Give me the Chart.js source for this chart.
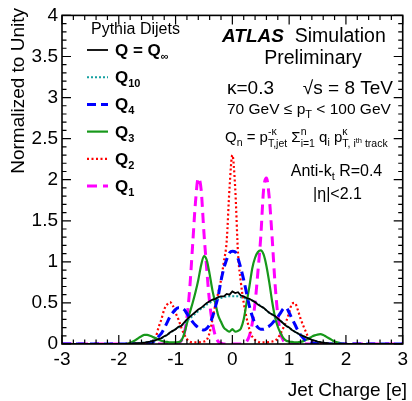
<!DOCTYPE html>
<html>
<head>
<meta charset="utf-8">
<script src="https://cdn.jsdelivr.net/npm/chart.js@4/dist/chart.umd.min.js"></script>
<style>
  html, body { margin: 0; padding: 0; background: #fff; }
  #c { display: block; }
</style>
</head>
<body>
<canvas id="c" width="412" height="401"></canvas>
<script>
// jet charge bins (e)
const charge = [
  -3,
  -2.0, -1.95, -1.9, -1.85, -1.8, -1.75, -1.7, -1.65, -1.6, -1.55,
  -1.5, -1.45, -1.4, -1.35, -1.3, -1.25, -1.2, -1.15, -1.1, -1.05,
  -1.0, -0.95, -0.9, -0.85, -0.8, -0.75, -0.7, -0.65, -0.6, -0.55,
  -0.5, -0.45, -0.4, -0.35, -0.3, -0.25, -0.2, -0.15, -0.1, -0.05,
  0.0, 0.05, 0.1, 0.15, 0.2, 0.25, 0.3, 0.35, 0.4, 0.45,
  0.5, 0.55, 0.6, 0.65, 0.7, 0.75, 0.8, 0.85, 0.9, 0.95,
  1.0, 1.05, 1.1, 1.15, 1.2, 1.25, 1.3, 1.35, 1.4, 1.45,
  1.5, 1.55, 1.6, 1.65, 1.7, 1.75, 1.8, 1.85, 1.9, 1.95,
  2.0, 3
];

const qInf = [
  0,
  0, 0, 0, 0, 0.004, 0.006, 0.009, 0.011, 0.014, 0.018,
  0.024, 0.030, 0.037, 0.046, 0.060, 0.072, 0.094, 0.11, 0.14, 0.16,
  0.18, 0.21, 0.22, 0.26, 0.30, 0.33, 0.36, 0.39, 0.42, 0.44,
  0.47, 0.50, 0.52, 0.54, 0.55, 0.57, 0.58, 0.58, 0.61, 0.60,
  0.64, 0.62, 0.63, 0.59, 0.58, 0.56, 0.55, 0.53, 0.51, 0.48,
  0.46, 0.44, 0.41, 0.38, 0.36, 0.34, 0.31, 0.28, 0.25, 0.22,
  0.20, 0.17, 0.15, 0.13, 0.11, 0.095, 0.08, 0.065, 0.05, 0.04,
  0.03, 0.024, 0.018, 0.012, 0.008, 0.005, 0.003, 0, 0, 0,
  0, 0
];

const q10 = [
  0,
  0, 0, 0, 0, 0.003, 0.005, 0.008, 0.011, 0.014, 0.018,
  0.023, 0.03, 0.037, 0.046, 0.058, 0.07, 0.09, 0.11, 0.135, 0.16,
  0.18, 0.2, 0.22, 0.25, 0.28, 0.31, 0.34, 0.37, 0.40, 0.43,
  0.45, 0.48, 0.5, 0.52, 0.54, 0.55, 0.56, 0.57, 0.58, 0.58,
  0.58, 0.58, 0.58, 0.57, 0.56, 0.55, 0.54, 0.53, 0.51, 0.49,
  0.46, 0.44, 0.41, 0.38, 0.36, 0.33, 0.3, 0.28, 0.25, 0.22,
  0.2, 0.17, 0.15, 0.13, 0.11, 0.095, 0.08, 0.065, 0.05, 0.04,
  0.03, 0.023, 0.017, 0.011, 0.007, 0.004, 0.002, 0, 0, 0,
  0, 0
];

const q4 = [
  0,
  0, 0, 0, 0, 0, 0, 0, 0, 0, 0.005,
  0.01, 0.015, 0.025, 0.05, 0.09, 0.13, 0.19, 0.26, 0.33, 0.38,
  0.42, 0.44, 0.44, 0.42, 0.37, 0.32, 0.27, 0.23, 0.2, 0.18,
  0.17, 0.19, 0.24, 0.33, 0.45, 0.58, 0.77, 0.92, 1.03, 1.11,
  1.13, 1.12, 1.04, 0.92, 0.78, 0.62, 0.46, 0.34, 0.25, 0.2,
  0.18, 0.18, 0.2, 0.22, 0.25, 0.29, 0.33, 0.38, 0.43, 0.44,
  0.38, 0.31, 0.24, 0.17, 0.11, 0.07, 0.04, 0.025, 0.015, 0.01,
  0.005, 0, 0, 0, 0, 0, 0, 0, 0, 0,
  0, 0
];

const q3 = [
  0,
  0, 0, 0, 0.005, 0.015, 0.03, 0.05, 0.075, 0.095, 0.11,
  0.11, 0.10, 0.085, 0.07, 0.055, 0.04, 0.03, 0.025, 0.02, 0.02,
  0.02, 0.025, 0.04, 0.12, 0.25, 0.38, 0.5, 0.63, 0.78, 0.96,
  1.07, 1.02, 0.85, 0.65, 0.5, 0.35, 0.27, 0.2, 0.17, 0.15,
  0.18, 0.15, 0.16, 0.19, 0.3, 0.5, 0.7, 0.92, 1.05, 1.12,
  1.14, 1.09, 0.95, 0.75, 0.52, 0.33, 0.21, 0.13, 0.07, 0.04,
  0.03, 0.025, 0.02, 0.02, 0.025, 0.035, 0.05, 0.07, 0.09, 0.105,
  0.115, 0.12, 0.11, 0.09, 0.07, 0.05, 0.03, 0.02, 0.01, 0.005,
  0, 0
];

const q2 = [
  0,
  0, 0, 0, 0, 0, 0, 0, 0, 0, 0.005,
  0.01, 0.02, 0.03, 0.08, 0.2, 0.3, 0.42, 0.48, 0.51, 0.47,
  0.38, 0.3, 0.2, 0.12, 0.06, 0.03, 0.02, 0.02, 0.02, 0.025,
  0.03, 0.05, 0.14, 0.3, 0.48, 0.62, 0.78, 1.0, 1.25, 1.9,
  2.3, 1.9, 1.1, 0.75, 0.5, 0.32, 0.18, 0.09, 0.05, 0.03,
  0.02, 0.02, 0.02, 0.025, 0.03, 0.04, 0.07, 0.13, 0.2, 0.28,
  0.38, 0.49, 0.5, 0.42, 0.31, 0.22, 0.14, 0.06, 0.03, 0.01,
  0, 0, 0, 0, 0, 0, 0, 0, 0, 0,
  0, 0
];

const q1 = [
  0,
  0, 0, 0, 0, 0, 0, 0, 0, 0, 0,
  0, 0, 0, 0, 0, 0, 0, 0, 0, 0,
  0, 0.01, 0.04, 0.12, 0.32, 0.68, 1.2, 1.72, 2.02, 1.88,
  1.35, 0.9, 0.5, 0.25, 0.1, 0.03, 0.01, 0, 0, 0,
  0, 0, 0, 0, 0.01, 0.03, 0.1, 0.25, 0.5, 0.88,
  1.3, 1.88, 2.02, 1.78, 1.3, 0.75, 0.35, 0.13, 0.04, 0.01,
  0, 0, 0, 0, 0, 0, 0, 0, 0, 0,
  0, 0, 0, 0, 0, 0, 0, 0, 0, 0,
  0, 0
];

// legend subscripts, in drawing order
const legendSubs = ['\u221e', '10', '4', '3', '2', '1'];

const FONT = '"Liberation Sans", Arial, Helvetica, sans-serif';

const styles = [
  { values: qInf, color: '#000000', width: 1.8, dash: [], tension: 0 },
  { values: q10, color: '#14a0a0', width: 2, dash: [2, 2], tension: 0.4 },
  { values: q4, color: '#0000ff', width: 3, dash: [9, 5], tension: 0.4 },
  { values: q3, color: '#17981a', width: 2.2, dash: [], tension: 0.4 },
  { values: q2, color: '#ff0000', width: 2.2, dash: [2, 2.5], tension: 0.4 },
  { values: q1, color: '#ff00ff', width: 3, dash: [10, 6], tension: 0.4 }
];

function toPoints(values) {
  return charge.map((c, i) => ({ x: c, y: values[i] }));
}

// draws a run of text pieces (with sub/superscripts) on one baseline
function rich(ctx, x, y, parts, align) {
  let cur = 0, held = 0;
  const laid = parts.map(p => {
    ctx.font = `${p.st || ''} ${p.w || ''} ${p.s}px ${FONT}`;
    const wd = ctx.measureText(p.t).width;
    const item = { p, x: cur };
    if (p.keep) {
      held = Math.max(held, wd);
    } else {
      cur += Math.max(wd, held);
      held = 0;
    }
    return item;
  });
  let x0 = x;
  if (align === 'right') x0 = x - cur;
  if (align === 'center') x0 = x - cur / 2;
  ctx.textAlign = 'left';
  ctx.textBaseline = 'alphabetic';
  laid.forEach(({ p, x: dx }) => {
    ctx.font = `${p.st || ''} ${p.w || ''} ${p.s}px ${FONT}`;
    ctx.fillText(p.t, x0 + dx, y + (p.dy || 0));
  });
}

const frame = {
  id: 'frame',
  afterDatasetsDraw(chart) {
    const { ctx, chartArea: a, scales: { x, y } } = chart;
    ctx.save();
    ctx.strokeStyle = '#000';
    ctx.setLineDash([]);
    ctx.lineWidth = 1.2;
    ctx.beginPath();
    for (let i = 0; i <= 30; i++) {
      const px = x.getPixelForValue(-3 + i * 0.2);
      const len = i % 5 === 0 ? 9 : 4.5;
      ctx.moveTo(px, a.bottom); ctx.lineTo(px, a.bottom - len);
      ctx.moveTo(px, a.top); ctx.lineTo(px, a.top + len);
    }
    for (let i = 0; i <= 40; i++) {
      const py = y.getPixelForValue(i * 0.1);
      const len = i % 5 === 0 ? 9 : 4.5;
      ctx.moveTo(a.left, py); ctx.lineTo(a.left + len, py);
      ctx.moveTo(a.right, py); ctx.lineTo(a.right - len, py);
    }
    ctx.stroke();
    ctx.lineWidth = 1.6;
    ctx.strokeRect(a.left, a.top, a.right - a.left, a.bottom - a.top);
    ctx.restore();
  }
};

const labels = {
  id: 'labels',
  afterDraw(chart) {
    const { ctx } = chart;
    ctx.save();
    ctx.fillStyle = '#000';

    // axis titles
    ctx.font = `19px ${FONT}`;
    ctx.textAlign = 'right';
    ctx.textBaseline = 'alphabetic';
    ctx.fillText('Jet Charge [e]', 407, 396);
    ctx.save();
    ctx.translate(24, 8);
    ctx.rotate(-Math.PI / 2);
    ctx.fillText('Normalized to Unity', 0, 0);
    ctx.restore();

    // legend
    ctx.font = `16px ${FONT}`;
    ctx.textAlign = 'left';
    ctx.fillText('Pythia Dijets', 91, 34);
    styles.forEach((s, i) => {
      const cy = 50 + i * 27.2;
      ctx.strokeStyle = s.color;
      ctx.lineWidth = s.width;
      ctx.setLineDash(s.dash);
      ctx.beginPath();
      ctx.moveTo(87, cy);
      ctx.lineTo(108, cy);
      ctx.stroke();
      ctx.setLineDash([]);
      const head = i === 0 ? 'Q = Q' : 'Q';
      rich(ctx, 115, cy + 6, [
        { t: head, s: 17, w: 'bold' },
        { t: legendSubs[i], s: 11, w: 'bold', dy: 4 }
      ], 'left');
    });

    // ATLAS block
    rich(ctx, 222, 42, [
      { t: 'ATLAS', s: 19, w: 'bold', st: 'italic' },
      { t: '  Simulation', s: 19.5 }
    ], 'left');
    rich(ctx, 313, 64, [{ t: 'Preliminary', s: 19.5 }], 'center');
    rich(ctx, 227, 94, [{ t: '\u03ba=0.3', s: 19 }], 'left');
    rich(ctx, 393, 94, [{ t: '\u221as = 8 TeV', s: 19 }], 'right');
    rich(ctx, 227, 114, [
      { t: '70 GeV \u2264 p', s: 15.5 },
      { t: 'T', s: 11, dy: 4 },
      { t: ' < 100 GeV', s: 15.5 }
    ], 'left');
    rich(ctx, 225, 142, [
      { t: 'Q', s: 15 },
      { t: 'n', s: 10.5, dy: 4 },
      { t: ' = p', s: 15 },
      { t: '-\u03ba', s: 10.5, dy: -7, keep: true },
      { t: 'T,jet', s: 10.5, dy: 5 },
      { t: ' \u03a3', s: 15 },
      { t: 'n', s: 10.5, dy: -7, keep: true },
      { t: 'i=1', s: 10.5, dy: 5 },
      { t: ' q', s: 15 },
      { t: 'i', s: 10.5, dy: 4 },
      { t: ' p', s: 15 },
      { t: '\u03ba', s: 10.5, dy: -7, keep: true },
      { t: 'T, i', s: 10.5, dy: 5 },
      { t: 'th', s: 7.5, dy: 1 },
      { t: ' track', s: 10.5, dy: 5 }
    ], 'left');
    rich(ctx, 336.5, 176, [
      { t: 'Anti-k', s: 16 },
      { t: 't', s: 11, dy: 4 },
      { t: ' R=0.4', s: 16 }
    ], 'center');
    rich(ctx, 337.5, 199, [{ t: '|\u03b7|<2.1', s: 16 }], 'center');

    ctx.restore();
  }
};

new Chart(document.getElementById('c'), {
  type: 'line',
  data: {
    datasets: styles.map(s => ({
      data: toPoints(s.values),
      borderColor: s.color,
      borderWidth: s.width,
      borderDash: s.dash,
      tension: s.tension,
      cubicInterpolationMode: s.tension ? 'monotone' : 'default',
      pointRadius: 0,
      fill: false
    }))
  },
  options: {
    responsive: false,
    animation: false,
    devicePixelRatio: 1,
    layout: { padding: { top: 12, right: 6, left: 0, bottom: 0 } },
    plugins: { legend: { display: false }, tooltip: { enabled: false } },
    scales: {
      x: {
        type: 'linear',
        min: -3,
        max: 3,
        grid: { display: false, drawTicks: false },
        border: { display: false },
        ticks: { stepSize: 1, color: '#000', padding: 4, maxRotation: 0, font: { family: FONT, size: 19 } },
        afterFit: s => { s.height = 57; }
      },
      y: {
        min: 0,
        max: 4,
        grid: { display: false, drawTicks: false },
        border: { display: false },
        ticks: {
          stepSize: 0.5,
          color: '#000',
          padding: 4,
          font: { family: FONT, size: 19 },
          callback: v => String(v)
        },
        afterFit: s => { s.width = 62; }
      }
    }
  },
  plugins: [frame, labels]
});
</script>
</body>
</html>
